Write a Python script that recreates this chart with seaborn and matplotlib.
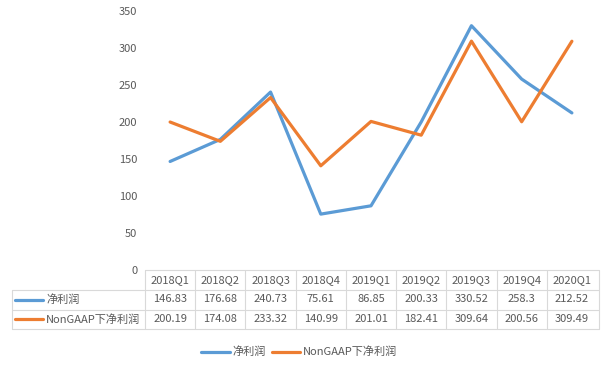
import matplotlib
matplotlib.use("Agg")
import matplotlib.pyplot as plt
import seaborn as sns
import pandas as pd
from matplotlib.lines import Line2D

categories = ["2018Q1", "2018Q2", "2018Q3", "2018Q4", "2019Q1", "2019Q2", "2019Q3", "2019Q4", "2020Q1"]
net_profit = [146.83, 176.68, 240.73, 75.61, 86.85, 200.33, 330.52, 258.3, 212.52]
nongaap_profit = [200.19, 174.08, 233.32, 140.99, 201.01, 182.41, 309.64, 200.56, 309.49]
net_labels = ["146.83", "176.68", "240.73", "75.61", "86.85", "200.33", "330.52", "258.3", "212.52"]
nongaap_labels = ["200.19", "174.08", "233.32", "140.99", "201.01", "182.41", "309.64", "200.56", "309.49"]
series_names = ["净利润", "NonGAAP下净利润"]
yticks = [0, 50, 100, 150, 200, 250, 300, 350]

sns.set_theme(style="white")
plt.rcParams['font.family'] = ['Noto Sans CJK SC', 'DejaVu Sans']

W, H = 606, 367
fig = plt.figure(figsize=(W / 100, H / 100), dpi=100)
left, right, top, bottom = 145, 597, 11.3, 270
ax = fig.add_axes([left / W, 1 - bottom / H, (right - left) / W, (bottom - top) / H])

blue = "#5B9BD5"
orange = "#ED7D31"
text_c = "#595959"
grid_c = "#D9D9D9"

df = pd.DataFrame({
    "idx": list(range(len(categories))) * 2,
    "value": net_profit + nongaap_profit,
    "series": [series_names[0]] * len(categories) + [series_names[1]] * len(categories),
})
sns.lineplot(data=df, x="idx", y="value", hue="series", palette=[blue, orange],
             linewidth=2.3, ax=ax, legend=False)

ax.set_xlim(-0.5, len(categories) - 0.5)
ax.set_ylim(0, 350)
ax.set_yticks(yticks)
ax.set_yticklabels([str(t) for t in yticks], color=text_c, fontsize=8)
ax.tick_params(axis="y", length=0, pad=5.5)
ax.set_xticks([])
ax.set_xlabel("")
ax.set_ylabel("")
for s in ax.spines.values():
    s.set_visible(False)

def fy(py):
    return 1 - py / H
def fx(px):
    return px / W

tl = 12
row_y = [270, 289.5, 309.5, 329]
cell_w = (right - left) / len(categories)
tbl_right = right + 2
lines = []
lines.append(((left, tbl_right), (row_y[0], row_y[0])))
for yy in row_y[1:]:
    lines.append(((tl, tbl_right), (yy, yy)))
lines.append(((tl, tl), (row_y[1], row_y[3])))
for i in range(len(categories) + 1):
    xx = left + i * cell_w if i < len(categories) else tbl_right
    lines.append(((xx, xx), (row_y[0], row_y[3])))
for (xs, ys) in lines:
    fig.add_artist(Line2D([fx(xs[0]), fx(xs[1])], [fy(ys[0]), fy(ys[1])],
                          color=grid_c, linewidth=0.8))

for i, cat in enumerate(categories):
    cx = fx(left + (i + 0.5) * cell_w)
    fig.text(cx, fy((row_y[0] + row_y[1]) / 2), cat, ha="center", va="center", fontsize=8, color=text_c)
    fig.text(cx, fy((row_y[1] + row_y[2]) / 2), net_labels[i], ha="center", va="center", fontsize=8, color=text_c)
    fig.text(cx, fy((row_y[2] + row_y[3]) / 2), nongaap_labels[i], ha="center", va="center", fontsize=8, color=text_c)

for r, (name, col) in enumerate(zip(series_names, [blue, orange])):
    yc = fy((row_y[1 + r] + row_y[2 + r]) / 2)
    fig.add_artist(Line2D([fx(15), fx(43)], [yc, yc], color=col, linewidth=2.3))
    fig.text(fx(46), yc, name, ha="left", va="center", fontsize=8, color=text_c)

ly = fy(352)
fig.add_artist(Line2D([fx(201), fx(230)], [ly, ly], color=blue, linewidth=2.3))
fig.text(fx(232), ly, series_names[0], ha="left", va="center", fontsize=8, color=text_c)
fig.add_artist(Line2D([fx(272), fx(300)], [ly, ly], color=orange, linewidth=2.3))
fig.text(fx(303), ly, series_names[1], ha="left", va="center", fontsize=8, color=text_c)

fig.savefig("out.png", dpi=100, facecolor="white")
